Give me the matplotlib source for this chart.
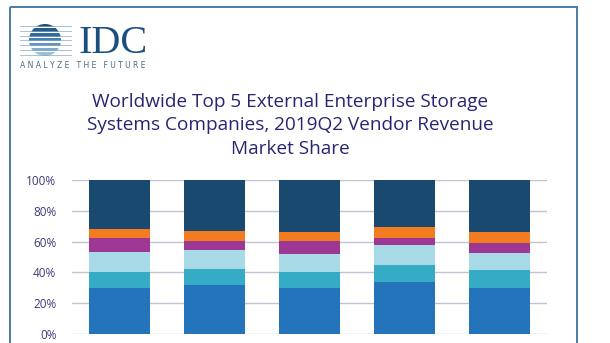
import numpy as np
import matplotlib
matplotlib.use('Agg')
import matplotlib.pyplot as plt
from matplotlib.patches import Circle, Rectangle

# Quarters along the x axis (labels are cropped off in the reference)
quarters = ['2018Q2', '2018Q3', '2018Q4', '2019Q1', '2019Q2']

# Vendor share per quarter, bottom to top (percent)
vendors = ['Dell Technologies', 'NetApp', 'HPE/New H3C', 'Hitachi', 'IBM', 'Others']
dell = [30.1, 31.8, 30.1, 34.0, 30.1]
netapp = [10.4, 10.2, 10.4, 10.8, 11.5]
hpe = [13.0, 12.5, 11.2, 13.0, 10.8]
hitachi = [9.0, 6.1, 8.9, 4.8, 6.9]
ibm = [6.0, 6.3, 5.8, 6.7, 7.1]
others = [31.5, 33.1, 33.6, 30.7, 33.6]

colors = ['#2474bc', '#36abc6', '#a7dae6', '#9c3894', '#f47c20', '#1a4970']
ytick_labels = ['0%', '20%', '40%', '60%', '80%', '100%']

title = ('Worldwide Top 5 External Enterprise Storage\n'
         'Systems Companies, 2019Q2 Vendor Revenue\n'
         'Market Share')

W, H = 610, 343
fig = plt.figure(figsize=(W / 100, H / 100), dpi=100)

# overlay axes in pixel coordinates for the frame and the logo
deco = fig.add_axes([0, 0, 1, 1])
deco.set_xlim(0, W)
deco.set_ylim(H, 0)
deco.axis('off')
deco.add_patch(Rectangle((10, 7), 567, 400, fill=False, ec='#4a7ea6', lw=1.4))

# IDC logo: striped globe with lines either side
globe = Circle((45, 40), 16, fc='none', ec='none')
deco.add_patch(globe)
stripe_cols = ['#1c4f7d', '#245b8c', '#316b9e', '#4680b3', '#5f95c2', '#7fabd0', '#9cc0dc']
for i, y0 in enumerate(np.arange(23.5, 57, 4.8)):
    r = Rectangle((28, y0), 34, 3.6, fc=stripe_cols[min(i, 6)], ec='none')
    r.set_clip_path(globe)
    deco.add_patch(r)
for y0 in np.arange(26, 56, 4.8):
    deco.plot([20, 71], [y0, y0], color='#8aa6bf', lw=0.5)
deco.text(79, 53, 'IDC', family='Liberation Serif', fontsize=29,
          color='#1c4f7d', va='baseline', ha='left')
deco.text(20, 65, 'A N A L Y Z E   T H E   F U T U R E', family='DejaVu Sans',
          fontsize=5.5, color='#4d6b85', va='center', ha='left')

fig.text(290 / W, 1 - 125.5 / H, title, ha='center', va='center',
         family='Open Sans', fontsize=13.7, color='#262673', linespacing=1.42)

ax = fig.add_axes([71.7 / W, 1 - 334 / H, 475 / W, 154 / H])
series = [dell, netapp, hpe, hitachi, ibm, others]
x = np.arange(len(quarters))
bottom = np.zeros(len(quarters))
for name, vals, c in zip(vendors, series, colors):
    ax.bar(x, vals, width=0.64, bottom=bottom, color=c, label=name, zorder=2)
    bottom += np.array(vals)

ax.set_xlim(-0.5, len(quarters) - 0.5)
ax.set_ylim(0, 100)
ax.set_yticks(np.arange(0, 101, 20))
ax.set_yticklabels(ytick_labels, family='Open Sans', fontsize=8.5, color='#3b3b7a')
ax.set_xticks([])
ax.tick_params(axis='y', length=0, pad=11)
ax.grid(axis='y', color='#c2c2d4', lw=1, zorder=0)
ax.set_axisbelow(True)
for s in ax.spines.values():
    s.set_visible(False)

fig.savefig('out.png', dpi=100)
